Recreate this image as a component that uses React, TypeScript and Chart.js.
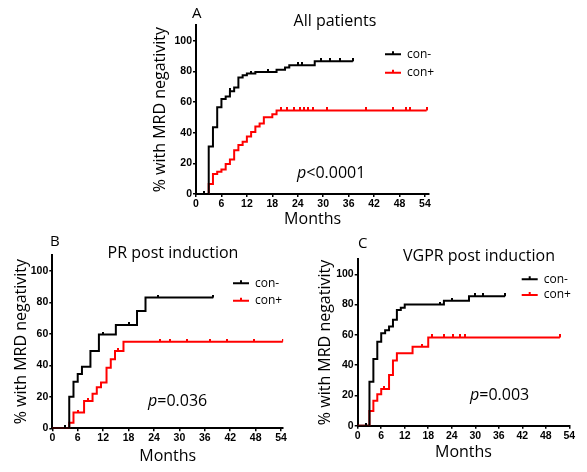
import React, { useEffect, useRef } from "react";
import { Chart, registerables } from "chart.js";

Chart.register(...registerables);

// ---- shared tick labels / names ----
const xTicks = [0, 6, 12, 18, 24, 30, 36, 42, 48, 54];
const yTicks = [0, 20, 40, 60, 80, 100];
const seriesNames = ["con-", "con+"];

// ---- Panel A: All patients ----
const aNegT = [0, 3, 4, 5, 6, 7, 8, 9, 10, 11, 12, 14, 19, 21, 22, 28, 37];
const aNegV = [0, 31, 43.5, 56.5, 62, 63.5, 67, 69.5, 76, 77.5, 78.5, 79.5, 81, 82.5, 84, 86.5, 86.5];
const aNegCens = [2, 8, 13, 17, 24, 25, 29.5, 31.5, 34, 37];
const aPosT = [0, 3, 3, 4, 5, 6, 7, 8, 9, 10, 11, 12, 13, 14, 15, 16, 18, 19, 54.4];
const aPosV = [0, 0, 6.5, 13, 14.5, 16, 19.5, 22.5, 28.5, 32, 34, 37.5, 40.5, 44, 46, 50, 52, 54.5, 54.5];
const aPosCens = [20, 21.5, 23, 24.5, 25.5, 26.5, 27.5, 31, 40, 46.5, 49.5, 50.5, 54.4];

// ---- Panel B: PR post induction ----
const bNegT = [0, 4, 5, 6, 7, 9, 11, 15, 20, 22, 38];
const bNegV = [0, 20, 29.5, 34.5, 39, 49, 59.5, 65.5, 74.5, 83, 83];
const bNegCens = [3, 12, 18, 25, 38];
const bPosT = [0, 4, 4, 5, 7.5, 9.5, 10.5, 11.5, 12.8, 13.8, 14.8, 16.8, 54.4];
const bPosV = [0, 0, 3.5, 10, 17.3, 22, 26, 29, 38.5, 43.8, 49, 55, 55];
const bPosCens = [6, 8.5, 15.5, 25.4, 27.8, 31.7, 37.2, 41.2, 47.5, 54.4];

// ---- Panel C: VGPR post induction ----
const cNegT = [0, 3, 4, 5, 6, 7, 8, 9, 10, 11, 12, 22, 28.4, 37.6];
const cNegV = [0, 29, 44, 55.5, 61, 63, 65.5, 70, 76.5, 78, 80, 82.5, 85.5, 85.5];
const cNegCens = [2, 21, 24, 30, 32, 37.6];
const cPosT = [0, 3, 3, 4, 5, 6, 8, 9, 10, 14, 18, 51.6];
const cPosV = [0, 0, 9.7, 16.5, 20.7, 24.2, 33.5, 43, 47.8, 52.2, 58.3, 58.3];
const cPosCens = [6.8, 16.3, 18.9, 22, 24.4, 26.1, 27.4, 51.6];

function steps(t: number[], v: number[]) {
  return t.map((x, i) => ({ x, y: v[i] }));
}
function marks(times: number[], t: number[], v: number[]) {
  return times.map((x) => {
    let y = v[0];
    for (let i = 0; i < t.length; i++) if (t[i] <= x) y = v[i];
    return { x, y };
  });
}

const FONT = "'Open Sans', 'Liberation Sans', sans-serif";
const TICKFONT = "'Liberation Sans', Arial, sans-serif";

type PanelCfg = {
  left: number; top: number; w: number; h: number;
  padTop: number; padRight: number;
  yW: number; xH: number; yTitlePad: number; xTitlePad: number;
  xMax: number;
  title: string; titleX: number; titleY: number;
  letter: string; letterX: number; letterY: number;
  pRest: string; pX: number; pY: number;
  legX: number; legY: number; legGap: number;
  negT: number[]; negV: number[]; negC: number[];
  posT: number[]; posV: number[]; posC: number[];
};

const panels: PanelCfg[] = [
  {
    left: 140, top: 0, w: 300, h: 232, padTop: 25.3, padRight: 10.8,
    yW: 56, xH: 38, yTitlePad: 10.4, xTitlePad: 2.9, xMax: 55,
    title: "All patients", titleX: 195, titleY: 21,
    letter: "A", letterX: 52, letterY: 14,
    pRest: "<0.0001", pX: 157, pY: 173,
    legX: 245, legY: 54.3, legGap: 18.4,
    negT: aNegT, negV: aNegV, negC: aNegCens, posT: aPosT, posV: aPosV, posC: aPosCens,
  },
  {
    left: 0, top: 230, w: 293, h: 242, padTop: 25, padRight: 9.8,
    yW: 52.3, xH: 43.7, yTitlePad: 11.4, xTitlePad: 6.4, xMax: 54.5,
    title: "PR post induction", titleX: 173, titleY: 23,
    letter: "B", letterX: 50, letterY: 11.7,
    pRest: "=0.036", pX: 148, pY: 171.5,
    legX: 233, legY: 53.3, legGap: 17.4,
    negT: bNegT, negV: bNegV, negC: bNegCens, posT: bPosT, posV: bPosV, posC: bPosCens,
  },
  {
    left: 293, top: 230, w: 294, h: 242, padTop: 29.2, padRight: 17.7,
    yW: 64.7, xH: 46.3, yTitlePad: 22.4, xTitlePad: 10.4, xMax: 54,
    title: "VGPR post induction", titleX: 186, titleY: 26.5,
    letter: "C", letterX: 65, letterY: 14,
    pRest: "=0.003", pX: 177, pY: 165.5,
    legX: 228.7, legY: 49.3, legGap: 15.7,
    negT: cNegT, negV: cNegV, negC: cNegCens, posT: cPosT, posV: cPosV, posC: cPosCens,
  },
];

const colors = ["#000000", "#ff0000"];

function tickImage(color: string) {
  // small upward censor tick: drawn centred on the point, so only the top half is filled
  const c = document.createElement("canvas");
  c.width = 2;
  c.height = 6;
  const g = c.getContext("2d")!;
  g.fillStyle = color;
  g.fillRect(0, 0, 2, 3);
  return c;
}

function Panel({ cfg }: { cfg: PanelCfg }) {
  const ref = useRef<HTMLCanvasElement | null>(null);
  useEffect(() => {
    if (!ref.current) return;
    const annot = {
      id: "annot",
      afterDraw(chart: any) {
        const ctx = chart.ctx as CanvasRenderingContext2D;
        ctx.save();
        ctx.fillStyle = "#000";
        ctx.textBaseline = "middle";
        ctx.font = `15px ${FONT}`;
        ctx.textAlign = "left";
        ctx.fillText(cfg.letter, cfg.letterX, cfg.letterY);
        ctx.font = `16px ${FONT}`;
        ctx.textAlign = "center";
        ctx.fillText(cfg.title, cfg.titleX, cfg.titleY);
        ctx.textAlign = "left";
        ctx.font = `italic 16px ${FONT}`;
        ctx.fillText("p", cfg.pX, cfg.pY);
        const pw = ctx.measureText("p").width;
        ctx.font = `16px ${FONT}`;
        ctx.fillText(cfg.pRest, cfg.pX + pw, cfg.pY);
        ctx.font = `12px ${FONT}`;
        seriesNames.forEach((name, i) => {
          const y = cfg.legY + i * cfg.legGap;
          ctx.strokeStyle = colors[i];
          ctx.lineWidth = 2;
          ctx.beginPath();
          ctx.moveTo(cfg.legX, y);
          ctx.lineTo(cfg.legX + 16, y);
          ctx.moveTo(cfg.legX + 8, y);
          ctx.lineTo(cfg.legX + 8, y - 3);
          ctx.stroke();
          ctx.fillStyle = "#000";
          ctx.fillText(name, cfg.legX + 22, y);
        });
        ctx.restore();
      },
    };
    const lineDs = (t: number[], v: number[], c: string, label: string) => ({
      label,
      data: steps(t, v),
      borderColor: c,
      backgroundColor: c,
      borderWidth: 2,
      pointRadius: 0,
      stepped: "before" as const,
      fill: false,
    });
    const cenDs = (times: number[], t: number[], v: number[], c: string) => ({
      label: "",
      data: marks(times, t, v),
      borderColor: c,
      backgroundColor: c,
      showLine: false,
      pointStyle: tickImage(c),
      pointRadius: 3,
    });
    const chart = new Chart(ref.current, {
      type: "line",
      data: {
        datasets: [
          lineDs(cfg.negT, cfg.negV, colors[0], seriesNames[0]),
          cenDs(cfg.negC, cfg.negT, cfg.negV, colors[0]),
          lineDs(cfg.posT, cfg.posV, colors[1], seriesNames[1]),
          cenDs(cfg.posC, cfg.posT, cfg.posV, colors[1]),
        ] as any,
      },
      options: {
        animation: false,
        responsive: false,
        layout: { padding: { top: cfg.padTop, right: cfg.padRight, bottom: 0, left: 0 } },
        plugins: {
          legend: { display: false },
          tooltip: { enabled: false },
          title: { display: false },
        },
        scales: {
          x: {
            type: "linear",
            min: 0,
            max: cfg.xMax,
            afterBuildTicks: (s: any) => {
              s.ticks = xTicks.map((value) => ({ value }));
            },
            afterFit: (s: any) => {
              s.height = cfg.xH;
            },
            border: { display: true, color: "#000", width: 2 },
            grid: { display: true, drawOnChartArea: false, drawTicks: true, tickLength: 3, color: "#000", lineWidth: 1.5 },
            ticks: { color: "#000", font: { family: TICKFONT, weight: "bold", size: 10.5 }, padding: 1, maxRotation: 0, autoSkip: false },
            title: { display: true, text: "Months", color: "#000", font: { family: FONT, size: 16 }, padding: { top: 0, bottom: cfg.xTitlePad } },
          },
          y: {
            type: "linear",
            min: 0,
            max: 110,
            afterBuildTicks: (s: any) => {
              s.ticks = yTicks.map((value) => ({ value }));
            },
            afterFit: (s: any) => {
              s.width = cfg.yW;
            },
            border: { display: true, color: "#000", width: 2 },
            grid: { display: true, drawOnChartArea: false, drawTicks: true, tickLength: 3, color: "#000", lineWidth: 1.5 },
            ticks: { color: "#000", font: { family: TICKFONT, weight: "bold", size: 10.5 }, padding: 1, autoSkip: false },
            title: { display: true, text: "% with MRD negativity", color: "#000", font: { family: FONT, size: 16 }, padding: { top: cfg.yTitlePad, bottom: 0 } },
          },
        },
      } as any,
      plugins: [annot],
    });
    return () => chart.destroy();
  }, [cfg]);
  return (
    <canvas
      ref={ref}
      width={cfg.w}
      height={cfg.h}
      style={{ position: "absolute", left: cfg.left, top: cfg.top, width: cfg.w, height: cfg.h }}
    />
  );
}

export default function App() {
  return (
    <div style={{ position: "fixed", left: 0, top: 0, width: 587, height: 472, background: "#fff", overflow: "hidden" }}>
      {panels.map((p, i) => (
        <Panel key={i} cfg={p} />
      ))}
    </div>
  );
}
